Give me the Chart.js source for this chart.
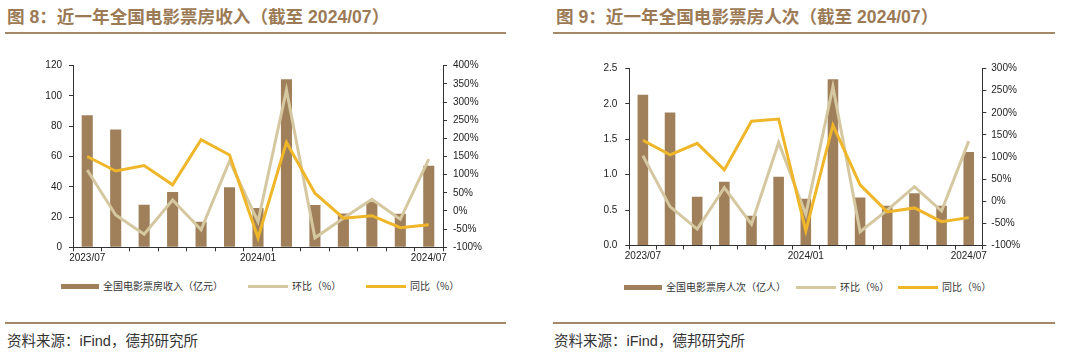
<!DOCTYPE html>
<html><head><meta charset="utf-8">
<script src="https://cdn.jsdelivr.net/npm/chart.js@4.4.1/dist/chart.umd.min.js"></script>
<style>
html,body{margin:0;padding:0;background:#fff;width:1080px;height:359px;overflow:hidden;position:relative;font-family:"Liberation Sans","Noto Sans CJK SC",sans-serif;}
.title{position:absolute;top:5px;font-family:"Liberation Sans","Noto Sans CJK SC",sans-serif;font-weight:bold;font-size:17.6px;color:#9b7a55;white-space:nowrap;line-height:24px;}
.rule{position:absolute;height:2px;background:#a58867;}
.src{position:absolute;top:331px;font-family:"Liberation Sans","Noto Sans CJK SC",sans-serif;font-size:14.5px;color:#333;white-space:nowrap;line-height:20px;}
.box{position:absolute;}
.lg{position:absolute;font-family:"Noto Sans CJK SC",sans-serif;font-size:10px;color:#333;white-space:nowrap;line-height:12px;}
.sw{position:absolute;}
</style></head>
<body>
<div class="title" style="left:7px;">图 8：近一年全国电影票房收入（截至 2024/07）</div>
<div class="title" style="left:556px;">图 9：近一年全国电影票房人次（截至 2024/07）</div>
<div class="rule" style="left:5px;width:501px;top:32px;"></div>
<div class="rule" style="left:553px;width:502px;top:32px;"></div>

<div class="box" style="left:0;top:50px;width:520px;height:220px;"><canvas id="c1"></canvas></div>
<div class="box" style="left:540px;top:50px;width:520px;height:220px;"><canvas id="c2"></canvas></div>

<div id="leg1"></div>
<div id="leg2"></div>

<div class="rule" style="left:5px;width:501px;top:322px;"></div>
<div class="rule" style="left:553px;width:502px;top:322px;"></div>
<div class="src" style="left:7px;">资料来源：iFind，德邦研究所</div>
<div class="src" style="left:554px;">资料来源：iFind，德邦研究所</div>

<script>
// ---- data ----
const months = ['2023/07','2023/08','2023/09','2023/10','2023/11','2023/12','2024/01','2024/02','2024/03','2024/04','2024/05','2024/06','2024/07'];
const shownLabels = ['2023/07','2024/01','2024/07'];
const boxRevenue = [87.3, 77.9, 28.1, 36.5, 16.9, 39.6, 25.9, 111.1, 27.9, 22.4, 30.1, 22.2, 53.9];
const revenueMoM = [113, -11, -64, 30, -52, 138, -29, 333, -74, -20, 32, -23, 143];
const revenueYoY = [150, 110, 125, 72, 196, 154, -74, 189, 49, -20, -13, -46, -38];
const attendance = [2.13, 1.88, 0.69, 0.90, 0.42, 0.97, 0.66, 2.35, 0.68, 0.56, 0.74, 0.56, 1.32];
const attendMoM = [103, -12, -63, 31, -52, 133, -30, 259, -69, -20, 33, -22, 136];
const attendYoY = [138, 105, 131, 71, 181, 186, -67, 172, 37, -24, -15, -46, -37];
const legend1 = ['全国电影票房收入（亿元）','环比（%）','同比（%）'];
const legend2 = ['全国电影票房人次（亿人）','环比（%）','同比（%）'];

const BROWN = '#a0805a', BEIGE = '#d5c8a1', GOLD = '#efb62a', AX = '#333';

function makeChart(id, bars, mom, yoy, labels, cfg) {
  const tickFont = {family:'"Liberation Sans", Arial, sans-serif', size:10};
  return new Chart(document.getElementById(id), {
    data: {
      labels: months,
      datasets: [
        {type:'line', label:labels[2], data:yoy, yAxisID:'y1', borderColor:GOLD, borderWidth:3, pointRadius:0, tension:0, order:1},
        {type:'line', label:labels[1], data:mom, yAxisID:'y1', borderColor:BEIGE, borderWidth:3, pointRadius:0, tension:0, order:2},
        {type:'bar', label:labels[0], data:bars, yAxisID:'y', backgroundColor:BROWN, barPercentage:0.5, categoryPercentage:0.78, order:3}
      ]
    },
    options: {
      responsive:true, maintainAspectRatio:false, animation:false,
      layout:{padding:{top:cfg.top, left:0, right:0, bottom:0}},
      plugins:{legend:{display:false}, tooltip:{enabled:false}},
      scales:{
        x:{
          offset:true,
          grid:{offset:true, drawOnChartArea:false, color:AX, tickLength:4, tickColor:AX},
          border:{color:AX, width:1},
          ticks:{autoSkip:false, maxRotation:0, padding:1, color:'#222', font:tickFont,
            callback:function(v,i){const l=months[i]; return shownLabels.includes(l)?l:'';}},
          afterFit:function(s){s.height=cfg.xh;}
        },
        y:{
          position:'left', min:cfg.yMin, max:cfg.yMax,
          grid:{drawOnChartArea:false, color:AX, tickLength:4},
          border:{color:AX, width:1},
          ticks:{stepSize:cfg.yStep, padding:cfg.lpad, color:'#222', font:tickFont,
            callback:cfg.yFmt},
          afterFit:function(s){s.width=cfg.lw;}
        },
        y1:{
          position:'right', min:cfg.rMin, max:cfg.rMax,
          grid:{drawOnChartArea:false, color:AX, tickLength:4},
          border:{color:AX, width:1},
          ticks:{stepSize:50, padding:cfg.rpad, color:'#222', font:tickFont,
            callback:function(v){return v+'%';}},
          afterFit:function(s){s.width=cfg.rw;}
        }
      }
    }
  });
}

makeChart('c1', boxRevenue, revenueMoM, revenueYoY, legend1,
  {top:15.7, xh:22.7, lw:73, rw:77, yMin:0, yMax:120, yStep:20, rMin:-100, rMax:400, lpad:7, rpad:6,
   yFmt:function(v){return v;}});
makeChart('c2', attendance, attendMoM, attendYoY, legend2,
  {top:18.6, xh:24.5, lw:89.3, rw:77.7, yMin:0, yMax:2.5, yStep:0.5, rMin:-100, rMax:300, lpad:8, rpad:5,
   yFmt:function(v){return v.toFixed(1);}});

function buildLegend(elId, labels, pos, cy) {
  const el = document.getElementById(elId);
  const colors = [BROWN, BEIGE, GOLD];
  const th = [5, 3, 3];
  labels.forEach((t,i)=>{
    const p = pos[i];
    const sw = document.createElement('div');
    sw.className='sw';
    sw.style.cssText=`left:${p[0]}px;top:${cy-th[i]/2}px;width:${p[1]-p[0]}px;height:${th[i]}px;background:${colors[i]};`;
    el.appendChild(sw);
    const tx = document.createElement('div');
    tx.className='lg'; tx.textContent=t;
    tx.style.left=(p[1]+4)+'px'; tx.style.top=(cy-6)+'px';
    el.appendChild(tx);
  });
}
buildLegend('leg1', legend1, [[61,99],[248,288],[366,406]], 286);
buildLegend('leg2', legend2, [[624,662],[796,836],[898,938]], 287);
</script>
</body></html>
